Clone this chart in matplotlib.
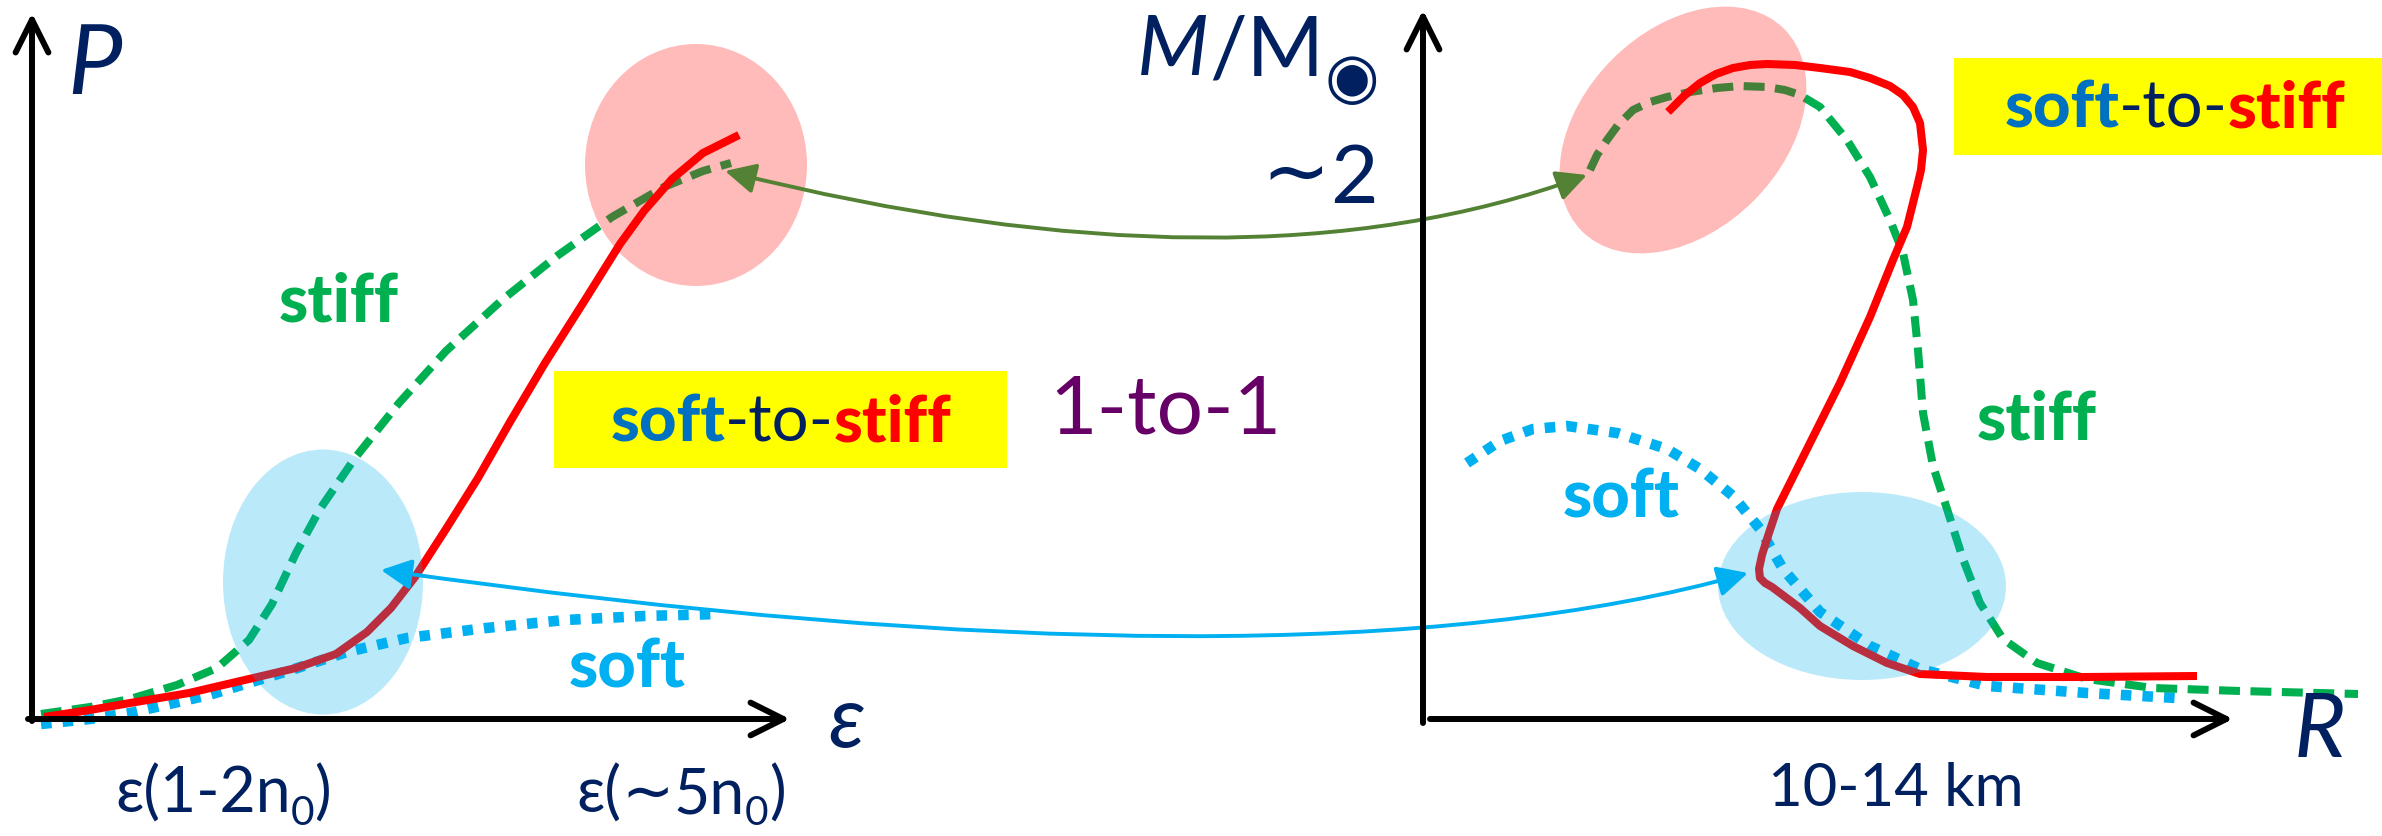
import matplotlib
matplotlib.use("Agg")
import matplotlib.pyplot as plt
from matplotlib.patches import Ellipse, FancyArrowPatch
from matplotlib.path import Path

# canvas units = pixels of the 2382x836 picture, y grows downward

# left panel: P(eps)
eps_stiff_x = [41, 90, 130, 177, 217, 249, 272, 296, 320, 355, 399, 446, 502, 557, 612, 664, 703, 731]
eps_stiff_y = [714, 707, 699, 685, 668, 640, 604, 553, 509, 458, 403, 351, 300, 256, 217, 187, 171, 163]
eps_mixed_x = [44, 90, 130, 189, 249, 296, 336, 367, 391, 415, 446, 478, 510, 545, 585, 620, 644, 672, 703, 739]
eps_mixed_y = [717, 710, 703, 693, 679, 668, 654, 632, 608, 577, 529, 478, 422, 363, 300, 244, 211, 179, 153, 135]
eps_soft_x = [41, 90, 130, 209, 288, 347, 407, 486, 565, 644, 719]
eps_soft_y = [724, 719, 713, 695, 671, 652, 638, 628, 620, 616, 614]

# right panel: M(R)
mr_stiff_x = [1590, 1597, 1607, 1618, 1633, 1650, 1667, 1690, 1717, 1740, 1767, 1785, 1800, 1820,
              1847, 1870, 1890, 1903, 1913, 1918, 1923, 1933, 1947, 1963, 1980, 2003, 2037, 2087,
              2153, 2240, 2358]
mr_stiff_y = [170, 155, 140, 125, 110, 102, 97, 92, 88, 86, 87, 90, 95, 107,
              140, 177, 220, 253, 300, 350, 413, 466, 509, 559, 603, 639, 663, 679,
              688, 691, 694]
mr_mixed_x = [1668, 1684, 1700, 1716, 1733, 1750, 1767, 1795, 1820, 1850, 1870, 1890, 1903, 1913,
              1920, 1923, 1921, 1917, 1907, 1893, 1870, 1840, 1820, 1777, 1767, 1762, 1759, 1760,
              1765, 1772, 1780, 1800, 1820, 1853, 1887, 1920, 1987, 2087, 2197]
mr_mixed_y = [112, 96, 83, 74, 68, 65, 64, 65, 68, 72, 78, 86, 95, 107,
              123, 150, 170, 187, 227, 260, 317, 383, 423, 509, 539, 555, 569, 578,
              583, 587, 593, 608, 626, 646, 663, 674, 677, 677, 676]
mr_soft_x = [1467, 1500, 1533, 1567, 1617, 1667, 1700, 1733, 1760, 1783, 1820, 1870, 1920, 1987, 2087, 2177]
mr_soft_y = [463, 441, 429, 426, 433, 449, 469, 496, 529, 569, 612, 646, 669, 686, 693, 698]

FONT = ["Lato", "DejaVu Sans"]
NAVY = "#002060"
RED = "#ff0000"
GREEN = "#00b050"
SKY = "#00b0f0"
OLIVE = "#548235"

fig = plt.figure(figsize=(23.82, 8.36), dpi=100)
ax = fig.add_axes([0, 0, 1, 1])
ax.set_xlim(0, 2382)
ax.set_ylim(836, 0)
ax.axis("off")

# curves
dash = dict(color=GREEN, lw=5.8, linestyle=(0, (2.6, 1.3)), dash_capstyle="butt", zorder=2)
dots = dict(color=SKY, lw=7.6, linestyle=(0, (1, 1.05)), dash_capstyle="butt", zorder=2)
solid = dict(color=RED, lw=5.8, solid_capstyle="butt", solid_joinstyle="round", zorder=2)
ax.plot(eps_soft_x, eps_soft_y, **dots)
ax.plot(eps_stiff_x, eps_stiff_y, **dash)
ax.plot(eps_mixed_x, eps_mixed_y, **solid)
ax.plot(mr_soft_x, mr_soft_y, **dots)
ax.plot(mr_stiff_x, mr_stiff_y, **dash)
ax.plot(mr_mixed_x, mr_mixed_y, **solid)

# shaded regions (drawn on top, translucent)
for (cx, cy), w, h, ang, col in [((323, 582), 200, 265, 0, SKY),
                                 ((696, 165), 222, 242, 0, RED),
                                 ((1862, 586), 288, 188, 0, SKY),
                                 ((1683, 130), 286, 200, -45, RED)]:
    ax.add_patch(Ellipse((cx, cy), w, h, angle=ang, facecolor=col, edgecolor="none",
                         alpha=0.27, zorder=3))

# axes with arrows
for a, b in [((32, 721), (32, 13)), ((28, 719), (790, 719)),
             ((1423, 723), (1423, 10)), ((1430, 719), (2233, 719))]:
    ax.add_patch(FancyArrowPatch(a, b, arrowstyle="->", mutation_scale=59, lw=4.3,
                                 color="black", capstyle="round", joinstyle="round",
                                 shrinkA=0, shrinkB=0, zorder=5))

# 1-to-1 connection arrows
for p0, c, p2, col in [((725, 171), (1244, 301), (1587, 175), OLIVE),
                       ((381, 570), (1296, 700), (1748, 573), SKY)]:
    pth = Path([p0, c, p2], [Path.MOVETO, Path.CURVE3, Path.CURVE3])
    ax.add_patch(FancyArrowPatch(path=pth, arrowstyle="<|-|>", mutation_scale=46, lw=2.8,
                                 color=col, shrinkA=0, shrinkB=0, zorder=4))


def parts_text(x, y, parts, size, ha="center"):
    r = fig.canvas.get_renderer()
    placed = []
    cur = 0.0
    for s, color, weight, style, scale, dy in parts:
        t = ax.text(cur, y + dy, s, color=color, fontsize=size * scale, fontweight=weight,
                    fontstyle=style, family=FONT, va="baseline", ha="left", zorder=6)
        placed.append((t, cur))
        cur += t.get_window_extent(r).width
    x0 = x - cur / 2 if ha == "center" else x
    for t, px in placed:
        t.set_x(x0 + px)


def label(x, y, s, color, size, weight="normal", style="normal"):
    ax.text(x, y, s, color=color, fontsize=size, fontweight=weight, fontstyle=style,
            family=FONT, ha="center", va="baseline", zorder=6)


# yellow boxes
ax.add_patch(plt.Rectangle((554, 371), 453, 97, facecolor="#ffff00", edgecolor="none", zorder=1))
ax.add_patch(plt.Rectangle((1954, 58), 428, 97, facecolor="#ffff00", edgecolor="none", zorder=1))
s2s = [("soft", "#0070c0", "black", "normal", 1, 0),
       ("-to-", NAVY, "normal", "normal", 1, 0),
       ("stiff", RED, "black", "normal", 1, 0)]
parts_text(781, 442, s2s, 47)
parts_text(2175, 128, s2s, 47)

label(95, 94, "P", NAVY, 70, style="italic")
label(846, 747, "ε", NAVY, 62, style="italic")
label(2320, 757, "R", NAVY, 64, style="italic")
label(339, 321, "stiff", GREEN, 48, weight="black")
label(627, 687, "soft", SKY, 48, weight="black")
label(2037, 439, "stiff", GREEN, 48, weight="black")
label(1621, 518, "soft", SKY, 48, weight="black")
label(1165, 433, "1-to-1", "#660066", 59)
parts_text(1320, 203, [("∼", NAVY, "normal", "normal", 1, -4),
                       ("2", NAVY, "normal", "normal", 1, 0)], 59)
label(1896, 806, "10-14 km", NAVY, 43)

parts_text(223, 813, [("ε(1-2n", NAVY, "normal", "normal", 1, 0),
                      ("0", NAVY, "normal", "normal", 0.65, 12),
                      (")", NAVY, "normal", "normal", 1, 0)], 45)
parts_text(681, 813, [("ε(", NAVY, "normal", "normal", 1, 0),
                      ("∼", NAVY, "normal", "normal", 1, -2),
                      ("5n", NAVY, "normal", "normal", 1, 0),
                      ("0", NAVY, "normal", "normal", 0.65, 12),
                      (")", NAVY, "normal", "normal", 1, 0)], 45)
parts_text(1258, 75, [("M", NAVY, "normal", "italic", 1, 0),
                      ("/M", NAVY, "normal", "normal", 1, 0),
                      ("◉", NAVY, "normal", "normal", 0.75, 22)], 60)

fig.savefig("out.png", dpi=100)
